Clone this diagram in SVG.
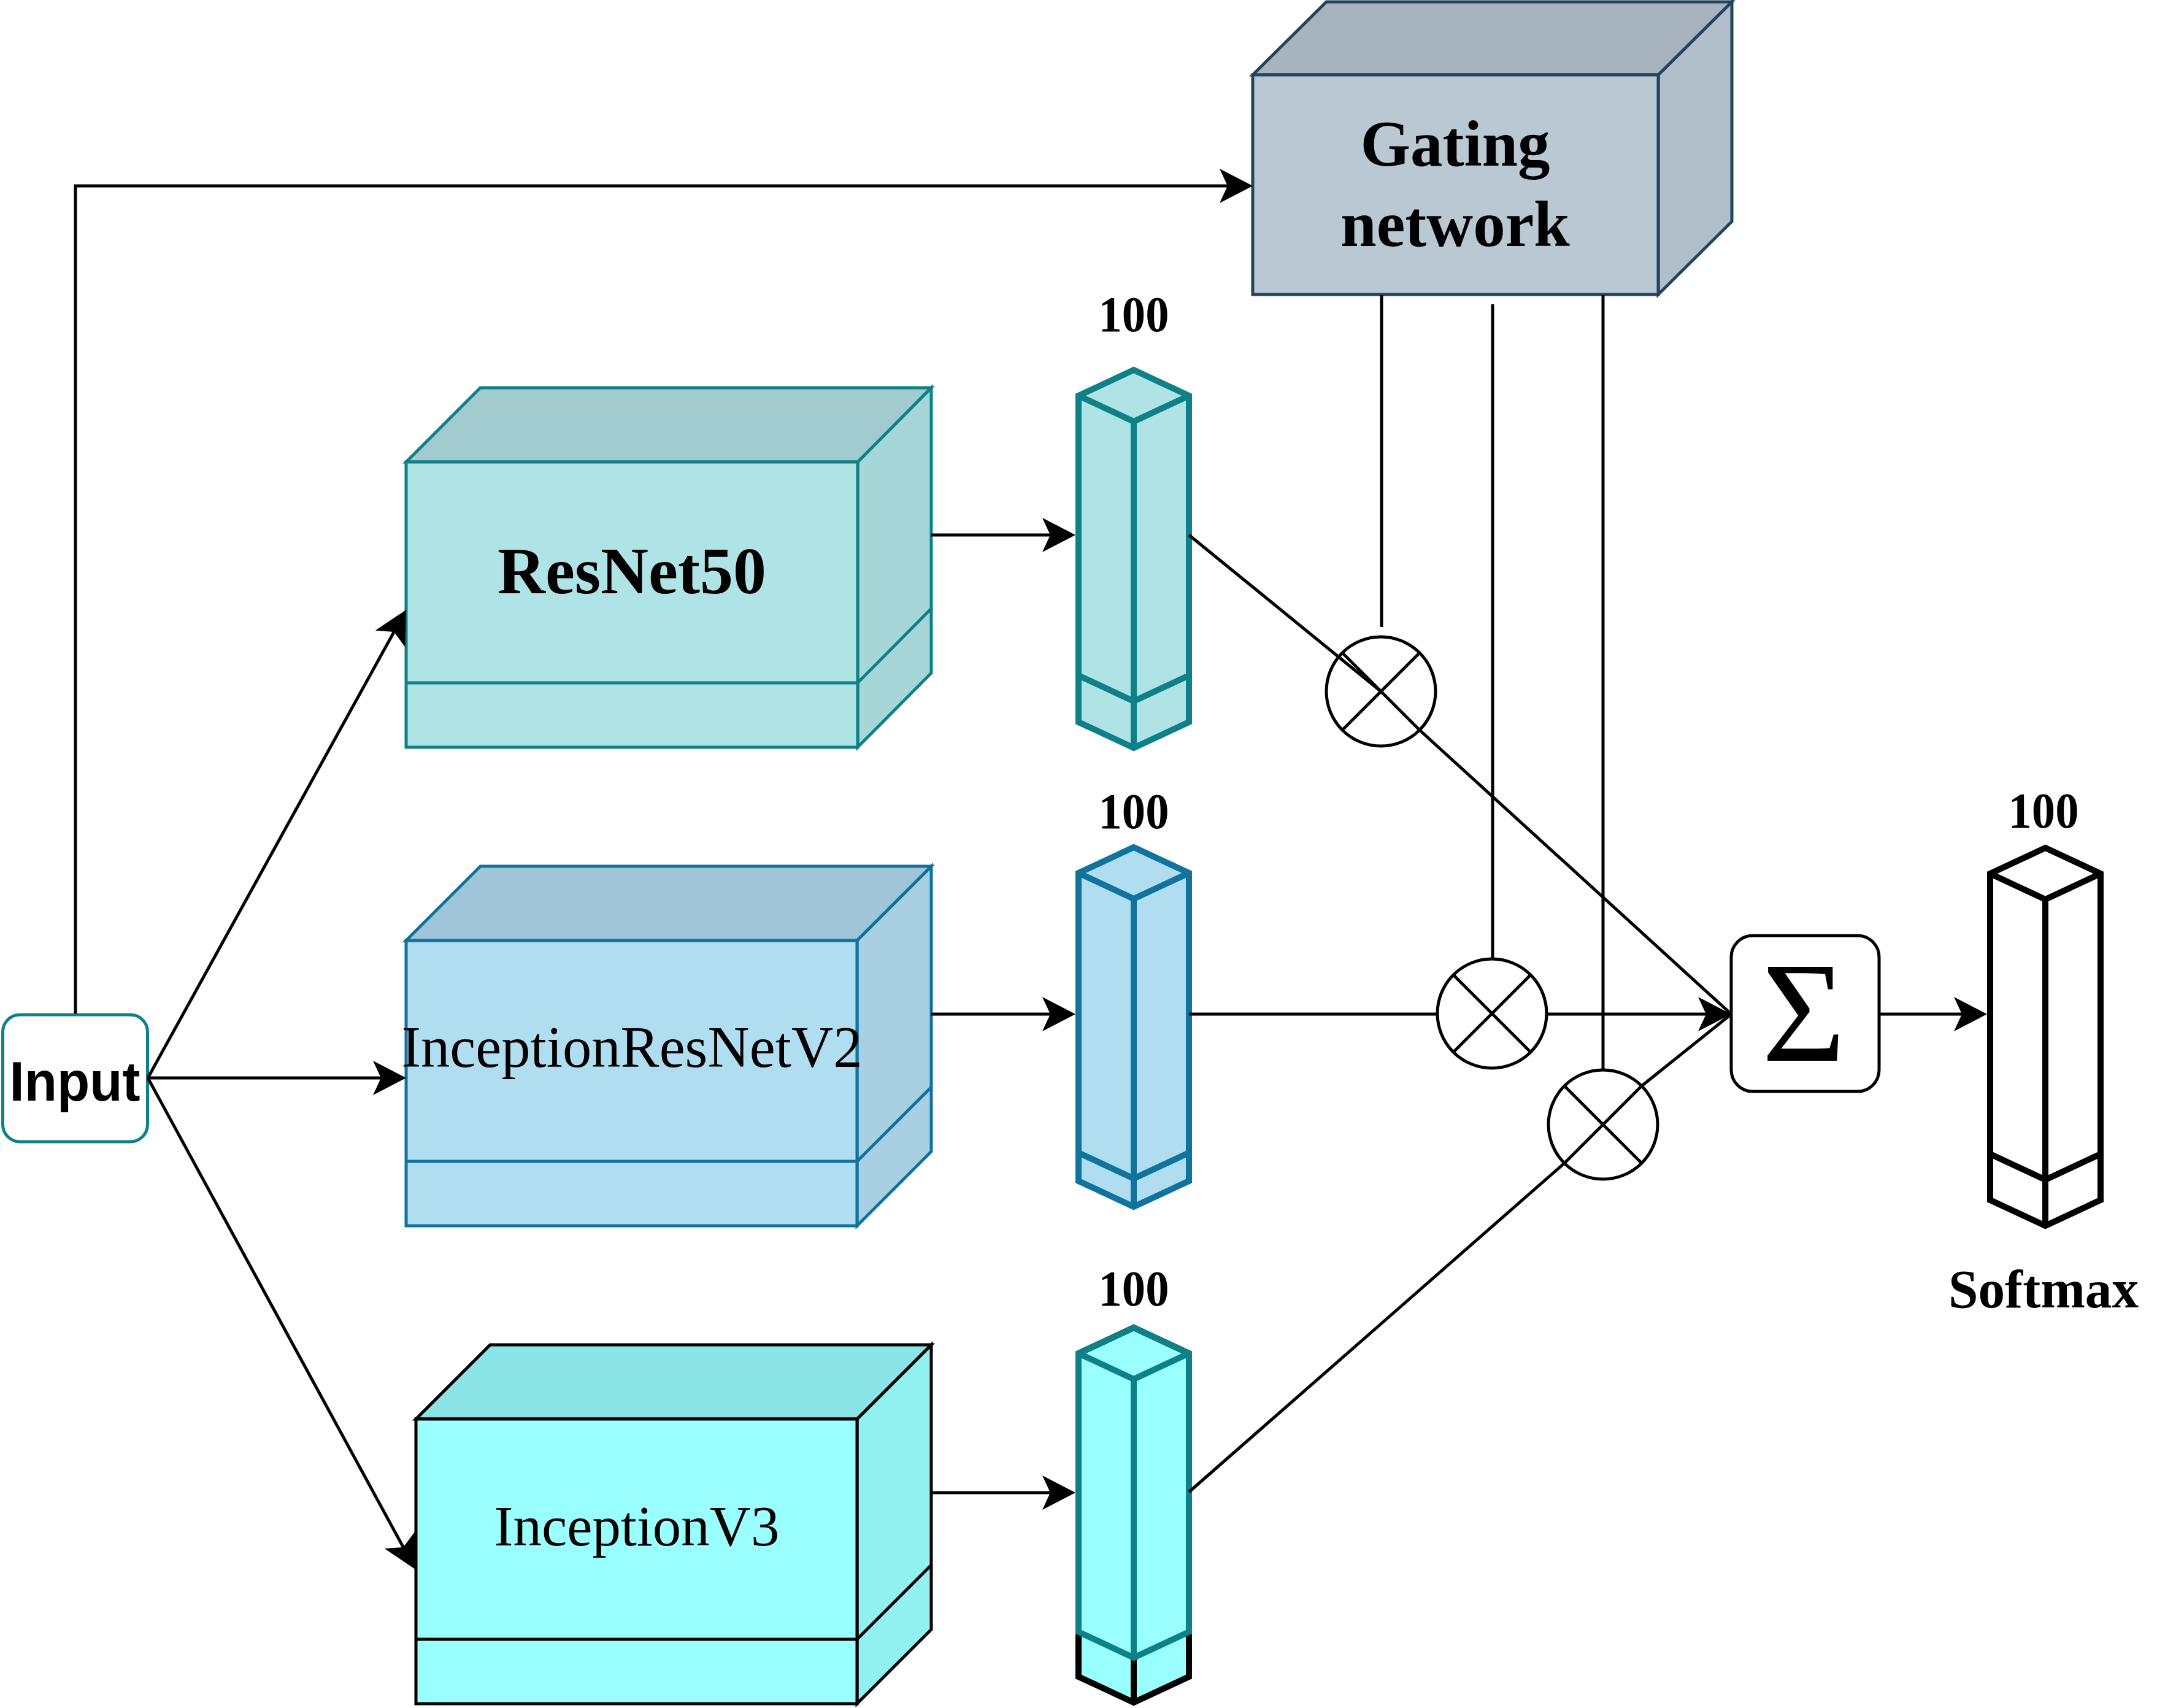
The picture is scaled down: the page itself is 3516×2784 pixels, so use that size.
<svg xmlns="http://www.w3.org/2000/svg" width="3516" height="2784" viewBox="0 0 3516 2784">
<style>
.ln{fill:none;stroke:#000;stroke-width:5}
.arr{marker-end:url(#ah)}
.c1{stroke:#0e8088;stroke-width:5;stroke-linejoin:miter}
.c2{stroke:#10739e;stroke-width:5;stroke-linejoin:miter}
.c3{stroke:#000;stroke-width:5;stroke-linejoin:miter}
.cg{stroke:#23445d;stroke-width:5;stroke-linejoin:miter}
.nf{fill:none}
.ser{font-family:"Liberation Serif","Times New Roman",serif;fill:#000;text-anchor:middle}
.b{font-weight:bold}
.pr{stroke-width:10;stroke-linejoin:miter}
.mul{fill:#fff;stroke:#000;stroke-width:5}
</style>
<defs>
<marker id="ah" markerUnits="userSpaceOnUse" viewBox="0 0 54 56" markerWidth="54" markerHeight="56" refX="44" refY="28" orient="auto">
<path d="M0,0 L54,28 L0,56 L13,28 Z" fill="#000"/>
</marker>
</defs>
<rect width="3516" height="2784" fill="#fff"/>

<g id="gating">
<polygon class="cg" points="2703,480 2823,361 2823,3 2703,122" fill="#b1bfca"/>
<polygon class="cg" points="2042,122 2162,3 2823,3 2703,122" fill="#a7b4be"/>
<rect class="cg" x="2042" y="122" width="661" height="358" fill="#bac8d3"/>
<text class="ser b" x="2372" y="270" font-size="105">Gating</text>
<text class="ser b" x="2372" y="401" font-size="105">network</text>
</g>

<g id="resnet50">
<polygon class="c1" points="1398,753 1518,632 1518,1097 1398,1218" fill="#a7d6d9"/>
<polygon class="c1" points="662,753 783,632 1518,632 1398,753" fill="#a1cbcf"/>
<rect class="c1" x="662" y="753" width="736" height="465" fill="#b0e3e6"/>
<path class="c1 nf" d="M662,1113 H1398 L1518,992"/>
<text class="ser b" x="1030" y="967" font-size="108">ResNet50</text>
</g>

<g id="inceptionresnetv2">
<polygon class="c2" points="1397,1533 1518,1412 1518,1877 1397,1998" fill="#a8d0e2"/>
<polygon class="c2" points="662,1533 783,1412 1518,1412 1397,1533" fill="#a0c5d8"/>
<rect class="c2" x="662" y="1533" width="735" height="465" fill="#b1ddf0"/>
<path class="c2 nf" d="M662,1893 H1397 L1518,1772"/>
<text class="ser" x="1030" y="1739" font-size="95" textLength="751" lengthAdjust="spacingAndGlyphs">InceptionResNetV2</text>
</g>

<g id="inceptionv3">
<polygon class="c3" points="1397,2313 1518,2192 1518,2656 1397,2777" fill="#91f1f1"/>
<polygon class="c3" points="678,2313 799,2192 1518,2192 1397,2313" fill="#8ae4e5"/>
<rect class="c3" x="678" y="2313" width="719" height="464" fill="#99ffff"/>
<path class="c3 nf" d="M678,2672 H1397 L1518,2551"/>
<text class="ser" x="1038" y="2519" font-size="93">InceptionV3</text>
</g>

<g id="input">
<rect x="4.5" y="1654" width="236" height="207" rx="28" ry="28" fill="#fff" stroke="#0e8088" stroke-width="5"/>
<text x="122" y="1794" font-family="'Liberation Sans',Arial,sans-serif" font-weight="bold" font-size="90" text-anchor="middle" textLength="213" lengthAdjust="spacingAndGlyphs">Input</text>
</g>

<g id="vec1">
<path class="c1 pr" fill="#b0e3e6" d="M1758,645 L1848,603 L1938,645 V1177 L1848,1219 L1758,1177 Z"/>
<path class="c1 pr nf" d="M1758,645 L1848,687 L1938,645 M1848,687 V1219 M1758,1101 L1848,1143 L1938,1101"/>
<text class="ser b" x="1848" y="540" font-size="82" textLength="115" lengthAdjust="spacingAndGlyphs">100</text>
</g>

<g id="vec2">
<path class="c2 pr" fill="#b1ddf0" d="M1758,1423 L1848,1381 L1938,1423 V1925 L1848,1967 L1758,1925 Z"/>
<path class="c2 pr nf" d="M1758,1423 L1848,1465 L1938,1423 M1848,1465 V1967 M1758,1879 L1848,1921 L1938,1879"/>
<text class="ser b" x="1848" y="1350" font-size="82" textLength="115" lengthAdjust="spacingAndGlyphs">100</text>
</g>

<g id="vec3">
<path class="pr" fill="#99ffff" stroke="#000" d="M1758,2206 L1848,2164 L1938,2206 V2733 L1848,2775 L1758,2733 Z"/>
<path class="pr nf" stroke="#000" d="M1848,2702 V2775"/>
<path class="c1 pr nf" d="M1758,2664 V2206 L1848,2164 L1938,2206 V2664 M1758,2206 L1848,2248 L1938,2206 M1848,2248 V2702 M1758,2660 L1848,2702 L1938,2660"/>
<text class="ser b" x="1848" y="2128" font-size="82" textLength="115" lengthAdjust="spacingAndGlyphs">100</text>
</g>

<g id="softmax">
<path class="pr" fill="#fff" stroke="#000" d="M3244,1424 L3334,1382 L3424,1424 V1956 L3334,1998 L3244,1956 Z"/>
<path class="pr nf" stroke="#000" d="M3244,1424 L3334,1466 L3424,1424 M3334,1466 V1998 M3244,1881 L3334,1923 L3424,1881"/>
<text class="ser b" x="3331" y="1349" font-size="82" textLength="115" lengthAdjust="spacingAndGlyphs">100</text>
<text class="ser b" x="3331" y="2131" font-size="88" textLength="310" lengthAdjust="spacingAndGlyphs">Softmax</text>
</g>

<g id="mult1">
<circle class="mul" cx="2251" cy="1127" r="89"/>
<path class="ln" d="M2188,1064 L2314,1190 M2314,1064 L2188,1190"/>
</g>
<g id="mult2">
<circle class="mul" cx="2432" cy="1652" r="89"/>
<path class="ln" d="M2369,1589 L2495,1715 M2495,1589 L2369,1715"/>
</g>
<g id="mult3">
<circle class="mul" cx="2613" cy="1833" r="89"/>
<path class="ln" d="M2550,1770 L2676,1896 M2676,1770 L2550,1896"/>
</g>

<g id="sum">
<rect x="2822" y="1525" width="241" height="254" rx="35" ry="35" fill="#fff" stroke="#000" stroke-width="5"/>
<text class="ser" x="2940" y="1729" font-size="234">Σ</text>
</g>

<g id="connectors">
<path class="ln arr" d="M123,1652 V303 H2032"/>
<path class="ln arr" d="M241,1757 L657.2,1002.8"/>
<path class="ln arr" d="M241,1757 H652"/>
<path class="ln arr" d="M241,1757 L672.2,2549.2"/>
<path class="ln arr" d="M1518,872 H1743"/>
<path class="ln arr" d="M1518,1653 H1743"/>
<path class="ln arr" d="M1518,2433 H1743"/>
<path class="ln" d="M2252,481 V1022"/>
<path class="ln" d="M2433,496 V1563"/>
<path class="ln" d="M2613,481 V1744"/>
<path class="ln" d="M1938,872 L2251,1127"/>
<path class="ln" d="M2314,1190 L2822,1653"/>
<path class="ln" d="M1938,1653 H2343"/>
<path class="ln arr" d="M2521,1653 H2812"/>
<path class="ln" d="M1938,2432 L2550,1896"/>
<path class="ln" d="M2676,1770 L2822,1653"/>
<path class="ln arr" d="M3063,1653 H3229"/>
</g>
</svg>
